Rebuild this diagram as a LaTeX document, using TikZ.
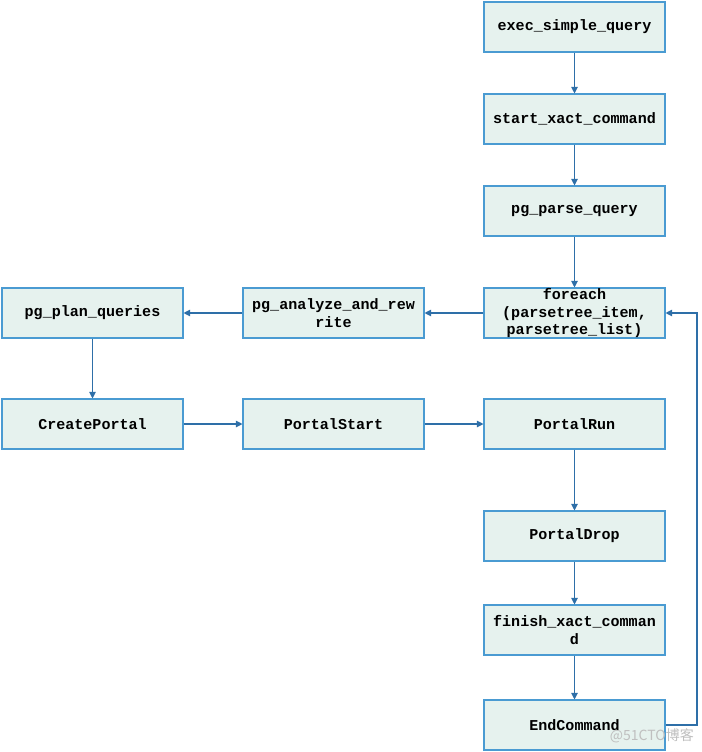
\documentclass[tikz,border=0pt]{standalone}
\usepackage{fontspec}
\setmonofont{Liberation Mono}
\newfontfamily\cjk{Noto Sans CJK SC}
\usetikzlibrary{arrows.meta}
\definecolor{boxfill}{HTML}{E6F2EE}
\definecolor{boxline}{HTML}{4A9BD2}
\definecolor{arrowc}{HTML}{2E6FA8}
\begin{document}
\begin{tikzpicture}[x=0.75pt,y=-0.75pt,
  blk/.style={draw=boxline,fill=boxfill,line width=0.8pt,minimum width=181*0.75pt,minimum height=50*0.75pt,inner sep=1pt,align=center,font=\ttfamily\bfseries\fontsize{11.3}{13.5}\selectfont},
  conn/.style={draw=arrowc,line width=0.8pt,-{Triangle[length=5pt,width=5pt]}}]
\useasboundingbox (0,0) rectangle (702,752);
\node[blk] (esq) at (574.5,27) {exec\_simple\_query};
\node[blk] (sxc) at (574.5,119) {start\_xact\_command};
\node[blk] (ppq) at (574.5,211) {pg\_parse\_query};
\node[blk,inner ysep=0pt,font=\ttfamily\bfseries\fontsize{11.3}{13}\selectfont] (fe) at (574.5,313) {foreach\\(parsetree\_item,\\parsetree\_list)};
\node[blk] (par) at (333.5,313) {pg\_analyze\_and\_rew\\rite};
\node[blk] (ppl) at (92.5,313) {pg\_plan\_queries};
\node[blk] (cp) at (92.5,424) {CreatePortal};
\node[blk] (ps) at (333.5,424) {PortalStart};
\node[blk] (pr) at (574.5,424) {PortalRun};
\node[blk] (pd) at (574.5,536) {PortalDrop};
\node[blk] (fxc) at (574.5,630) {finish\_xact\_comman\\d};
\node[blk] (ec) at (574.5,725) {EndCommand};
\coordinate (c1) at (697,725);
\coordinate (c2) at (697,313);
\draw[conn] (esq) -- (sxc);
\draw[conn] (sxc) -- (ppq);
\draw[conn] (ppq) -- (fe);
\draw[conn] (fe) -- (par);
\draw[conn] (par) -- (ppl);
\draw[conn] (ppl) -- (cp);
\draw[conn] (cp) -- (ps);
\draw[conn] (ps) -- (pr);
\draw[conn] (pr) -- (pd);
\draw[conn] (pd) -- (fxc);
\draw[conn] (fxc) -- (ec);
\draw[conn] (ec.east) -- (c1) -- (c2) -- (fe.east);
\node[text=black!25,font=\cjk\fontsize{10.5}{12}\selectfont,anchor=east,inner sep=0pt] (wm) at (694,736) {@51CTO博客};
\end{tikzpicture}
\end{document}
